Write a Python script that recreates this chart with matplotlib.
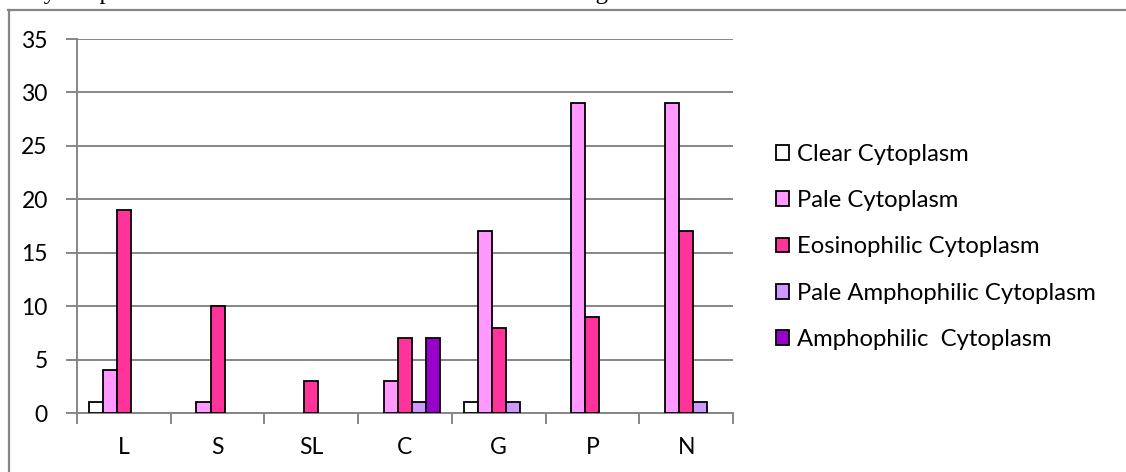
import matplotlib
matplotlib.use("Agg")
import matplotlib.pyplot as plt
import numpy as np
from matplotlib.lines import Line2D

categories = ["L", "S", "SL", "C", "G", "P", "N"]
clear = [1, 0, 0, 0, 1, 0, 0]
pale = [4, 1, 0, 3, 17, 29, 29]
eosinophilic = [19, 10, 3, 7, 8, 9, 17]
pale_amph = [0, 0, 0, 1, 1, 0, 1]
amph = [0, 0, 0, 7, 0, 0, 0]
series_names = ["Clear Cytoplasm", "Pale Cytoplasm", "Eosinophilic Cytoplasm",
                "Pale Amphophilic Cytoplasm", "Amphophilic  Cytoplasm"]
colors = ["#FFFFFF", "#FF99FF", "#FF3399", "#CC99FF", "#9900CC"]

plt.rcParams['font.family'] = ['Lato', 'DejaVu Sans']
grey = "#868686"
fs = 16.5

fig = plt.figure(figsize=(11.26, 4.72), dpi=100)
ax = fig.add_axes([77 / 1126, 59 / 472, (733 - 77) / 1126, (413 - 39) / 472])

x = np.arange(len(categories))
w = 0.15
data = [clear, pale, eosinophilic, pale_amph, amph]
for i, (vals, name, c) in enumerate(zip(data, series_names, colors)):
    vals = np.array(vals)
    keep = vals > 0  # Excel draws nothing for zero values
    ax.bar(x[keep] + (i - 2) * w, vals[keep], width=w, color=c, edgecolor="black",
           linewidth=1.3, label=name, zorder=3)

ax.set_xlim(-0.5, len(categories) - 0.5)
ax.set_ylim(0, 35)
ax.set_yticks(range(0, 36, 5))
ax.yaxis.grid(True, color=grey, linewidth=1.4, zorder=0)
ax.set_xticks(x)
ax.set_xticklabels(categories)
ax.set_xticks(np.arange(-0.5, len(categories), 1), minor=True)
ax.tick_params(axis="x", which="major", length=0, pad=17, labelsize=fs)
ax.tick_params(axis="x", which="minor", length=8, width=1.4, color=grey, direction="out")
ax.tick_params(axis="y", length=8, width=1.4, color=grey, pad=13, labelsize=fs)
for s in ["top", "right"]:
    ax.spines[s].set_visible(False)
for s in ["left", "bottom"]:
    ax.spines[s].set_color(grey)
    ax.spines[s].set_linewidth(1.4)

leg = ax.legend(loc="upper left", bbox_to_anchor=(1.065, 0.72), frameon=False,
                fontsize=17.2, handlelength=0.58, handleheight=0.58, handletextpad=0.33,
                labelspacing=1.06, borderaxespad=0, borderpad=0)

# outer chart frame, running off the right and bottom edge
fig.add_artist(Line2D([8.5 / 1126, 8.5 / 1126], [0, 1 - 10 / 472], color=grey, lw=1.6))
fig.add_artist(Line2D([8 / 1126, 1], [1 - 10 / 472, 1 - 10 / 472], color=grey, lw=1.6))

# document text above the chart, cut off by the page edge as in the source
fig.text(27 / 1126, 1 + 1 / 472,
         "By the pattern of cell colour and reaction to H&E staining",
         family="Liberation Serif", fontsize=18, va="baseline", ha="left")

fig.savefig("out.png", dpi=100)
